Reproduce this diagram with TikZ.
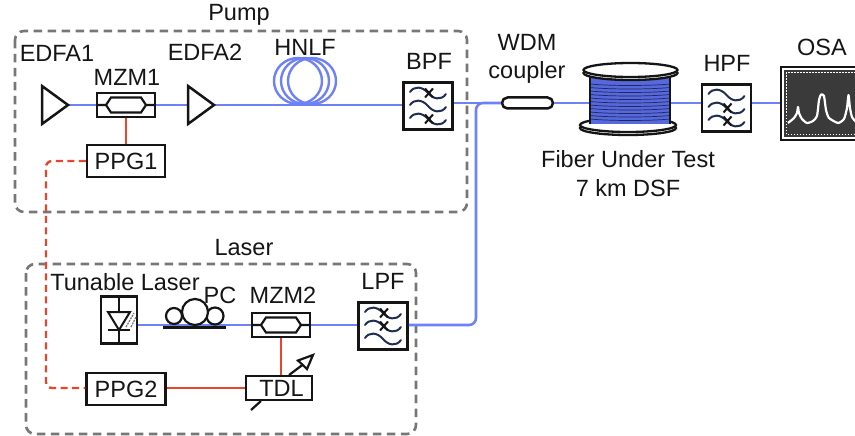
\documentclass[tikz,border=0pt]{standalone}
\usepackage{fontspec}
\setmainfont{Liberation Sans}
\definecolor{fibre}{HTML}{6F82F5}
\definecolor{elec}{HTML}{E8452C}
\definecolor{frame}{HTML}{777777}
\definecolor{wave}{HTML}{1F2D50}
\definecolor{ink}{HTML}{151515}
\definecolor{spoolblue}{HTML}{5568DC}
\definecolor{spoolline}{HTML}{20285F}
\definecolor{screen}{HTML}{3A3A3A}
\tikzset{
  lbl/.style={inner sep=0pt,text=ink,font=\fontsize{23.5}{27}\selectfont},
  blk/.style={draw=ink,line width=2.5pt,fill=white,inner sep=0pt,text=ink,font=\fontsize{23.5}{27}\selectfont},
  fibreline/.style={draw=fibre,line width=2.6pt},
  elecline/.style={draw=elec,line width=2.5pt},
  elecdash/.style={draw=elec,line width=2.4pt,dash pattern=on 7pt off 4.5pt,rounded corners=6pt},
  groupbox/.style={draw=frame,line width=2.6pt,dash pattern=on 8.5pt off 5.5pt,rounded corners=9pt},
  sym/.style={draw=ink,line width=2.5pt,line join=miter},
}
% filter symbol: name, x, y, list of wave offsets carrying a cross
\newcommand{\filterbox}[4]{%
  \node[blk,minimum width=49pt,minimum height=47pt] (#1) at (#2,#3) {};
  \begin{scope}[shift={(#1.center)}]
    \foreach \d in {-13,0,13}
      \draw[wave,line width=2pt,line cap=round] (-18,\d-1) .. controls (-14,\d-7) and (-6,\d-7) .. (0,\d) .. controls (5,\d+6) and (13,\d+8) .. (18,\d+1);
    \foreach \d in {#4}
      \draw[ink,line width=2pt] (-3,\d-4.5) -- (5,\d+4.5) (5,\d-4.5) -- (-3,\d+4.5);
  \end{scope}}
% modulator symbol
\newcommand{\modbox}[3]{%
  \node[blk,minimum width=58pt,minimum height=24pt] (#1) at (#2,#3) {};
  \begin{scope}[shift={(#1.center)}]
    \draw[sym,line width=2.2pt] (-29,0) -- (-20,0) -- (-15,-7.5) -- (15,-7.5) -- (20,0) -- (29,0) (20,0) -- (15,7.5) -- (-15,7.5) -- (-20,0);
  \end{scope}}
\begin{document}
\begin{tikzpicture}[x=1pt,y=-1pt]
\useasboundingbox (0,0) rectangle (855,436);
% group frames
\draw[groupbox] (15,31) rectangle (467,212);
\draw[groupbox] (26,264) rectangle (416,434);
% anchors
\coordinate (amp1in) at (42,105);
\coordinate (amp1) at (68,105);
\coordinate (amp2in) at (188,105);
\coordinate (amp2) at (214,105);
\coordinate (bus) at (476,325);
\coordinate (sigtop) at (46,161);
\coordinate (sigbot) at (46,388);
\node[minimum width=80pt,minimum height=44pt,inner sep=0pt] (spool) at (630,100) {};
\node[minimum width=80pt,minimum height=73pt,inner sep=0pt] (osa) at (821,103.5) {};
% HNLF coil
\foreach \cx in {298,305,312}
  \draw[fibre,line width=2.4pt] (\cx,81) ellipse [x radius=24,y radius=23];
% blocks
\modbox{mzmA}{126}{105}
\modbox{mzmB}{281}{325}
\node[blk,minimum width=51pt,minimum height=11pt,rounded corners=5.5pt] (wdm) at (527.5,103) {};
\filterbox{bpf}{428}{106}{-13,13}
\filterbox{lpf}{383}{326}{-13,0}
\filterbox{hpf}{726.5}{108}{0,13}
\node[blk,minimum width=36pt,minimum height=47pt] (ld) at (119,320) {};
\node[blk,minimum width=78pt,minimum height=32pt] (ppgA) at (126,161) {PPG1};
\node[blk,minimum width=79pt,minimum height=32pt] (ppgB) at (126,389) {PPG2};
\node[blk,minimum width=66pt,minimum height=24pt] (tdl) at (279,388) {\hspace{5pt}TDL};
% connectors
\draw[fibreline] (amp1) -- (mzmA.west);
\draw[fibreline] (mzmA.east) -- (amp2in);
\draw[fibreline] (amp2) -- (amp2 -| bpf.west);
\draw[fibreline] (bpf.east |- wdm) -- (wdm.west);
\draw[fibreline] (wdm.east) -- (wdm -| spool.west);
\draw[fibreline] (wdm -| spool.east) -- (wdm -| hpf.west);
\draw[fibreline] (hpf.east |- wdm) -- (wdm -| osa.west);
\draw[fibreline] (ld.east |- mzmB) -- (mzmB.west);
\draw[fibreline] (mzmB.east) -- (mzmB -| lpf.west);
\draw[fibreline,rounded corners=7pt] (mzmB -| lpf.east) -- (bus) -- (bus |- wdm) -- (wdm.west);
\draw[elecline] (mzmA.south) -- (mzmA.south |- ppgA.north);
\draw[elecline] (mzmB.south) -- (mzmB.south |- tdl.north);
\draw[elecline] (ppgB.east |- tdl) -- (tdl.west);
\draw[elecdash] (ppgA.west) -- (sigtop) -- (sigbot) -- (ppgB.west |- sigbot);
% amplifiers
\draw[sym,fill=white] (amp1in) ++(0,-19) -- (amp1) -- (42,124) -- cycle;
\draw[sym,fill=white] (amp2in) ++(0,-19) -- (amp2) -- (188,124) -- cycle;
% TDL adjuster arrow
\draw[sym,line width=2.2pt] (251,410) -- (261,401);
\draw[sym,line width=2.2pt] (289,375) -- (303,364.5);
\draw[sym,line width=2.2pt,fill=white] (313,355) -- (298,360.5) -- (307,369) -- cycle;
% laser diode
\draw[sym,line width=2pt] (ld.north) -- (ld.south);
\draw[sym,line width=2pt,fill=white] (108,312) -- (130,312) -- (119,330) -- cycle;
\draw[sym,line width=2pt] (108,330) -- (130,330);
\draw[frame,line width=1.3pt,dash pattern=on 2pt off 1pt] (126,327) -- (134,313) (131,327) -- (136,317);
% polarisation controller
\draw[ink,line width=2.2pt] (174,316) circle [radius=8];
\draw[ink,line width=2.2pt] (215,316) circle [radius=8.5];
\draw[ink,line width=2.2pt,fill=white] (195,312) circle [radius=13];
\draw[ink,line width=3pt] (163,327) -- (226,327);
% spool
\draw[ink,line width=2.3pt,fill=white] (628,128) ellipse [x radius=48,y radius=7];
\draw[ink,line width=2.3pt,fill=white] (628,125) ellipse [x radius=48,y radius=7];
\fill[spoolblue] (590,76) rectangle (670,124);
\foreach \ly in {84,87.5,...,122}
  \draw[spoolline,line width=0.7pt] (590,\ly) .. controls (610,\ly+2) and (650,\ly+2) .. (670,\ly);
\draw[ink,line width=2.3pt] (590,76) -- (590,124) (670,76) -- (670,124);
\draw[ink,line width=2.3pt,fill=white] (630.5,73) ellipse [x radius=47,y radius=7];
\draw[ink,line width=2.3pt,fill=white] (630.5,70) ellipse [x radius=47,y radius=7];
% OSA
\begin{scope}
\clip (0,0) rectangle (855,436);
\draw[ink,line width=2pt,fill=white] (781,67) rectangle (870,140);
\fill[screen] (784,70) rectangle (870,137);
\draw[white,line width=1pt,dash pattern=on 1.5pt off 1.5pt] (786.5,72.5) rectangle (870,134.5);
\draw[white,line width=2.2pt,line join=round] plot[smooth,tension=0.35] coordinates {(788,123) (794,118) (797,113) (798,107) (799,113) (802,119) (807,123) (813,121) (817,116) (819,100) (821,94.5) (824,96) (826,110) (829,118) (838,123) (844,119) (847,108) (848.5,95) (850,108) (852,117) (856,122)};
\end{scope}
% labels
\node[lbl] (tPump) at (239,15) {Pump};
\node[lbl] (tEa) at (57,53) {EDFA1};
\node[lbl] (tMa) at (127,77) {MZM1};
\node[lbl] (tEb) at (205,52) {EDFA2};
\node[lbl] (tH) at (305,47) {HNLF};
\node[lbl] (tB) at (429,61) {BPF};
\node[lbl] (tW) at (527,42) {WDM};
\node[lbl] (tC) at (527,72) {coupler};
\node[lbl] (tF) at (628,159) {Fiber Under Test};
\node[lbl] (tD) at (628,188) {7 km DSF};
\node[lbl] (tHp) at (727,63) {HPF};
\node[lbl] (tO) at (822,47) {OSA};
\node[lbl] (tL) at (244,248) {Laser};
\node[lbl] (tT) at (125,282) {Tunable Laser};
\node[lbl] (tPC) at (220,295) {PC};
\node[lbl] (tMb) at (283,295) {MZM2};
\node[lbl] (tLp) at (383,281) {LPF};
\end{tikzpicture}
\end{document}
